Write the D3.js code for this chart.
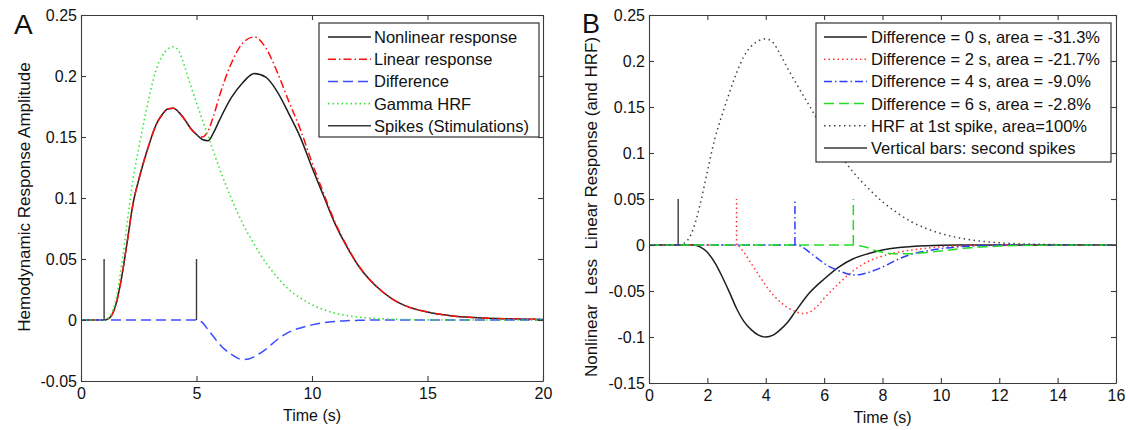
<!DOCTYPE html>
<html>
<head>
<meta charset="utf-8">
<script src="https://cdn.jsdelivr.net/npm/d3@7"></script>
<style>
  body { margin: 0; background: #fff; }
  svg text { font-family: "Liberation Sans", Arial, Helvetica, sans-serif; fill: #111; }
</style>
</head>
<body>
<svg id="fig" width="1128" height="430"></svg>
<script>
// ---------- Panel A: two spikes (t = 1 s and t = 5 s) ----------
const timeA = [0, 0.5, 1, 1.25, 1.5, 1.75, 2, 2.25, 2.5, 2.75, 3, 3.25, 3.5, 3.75, 4, 4.25, 4.5, 4.75,
  5, 5.25, 5.5, 5.75, 6, 6.5, 7, 7.5, 8, 8.5, 9, 9.5, 10, 10.5, 11, 11.5, 12, 12.5, 13, 13.5, 14,
  15, 16, 17, 18, 20];
const linearA = [0, 0, 0, 0.002, 0.012, 0.034, 0.064, 0.095, 0.115, 0.132, 0.147, 0.160, 0.168, 0.173, 0.1735, 0.170, 0.164, 0.157,
  0.152, 0.150, 0.155, 0.168, 0.184, 0.210, 0.227, 0.232, 0.223, 0.203, 0.179, 0.156, 0.129, 0.104, 0.080, 0.061, 0.045, 0.033, 0.024, 0.017, 0.012,
  0.0065, 0.0035, 0.002, 0.0012, 0.0005];
const nonlinearA = [0, 0, 0, 0.002, 0.012, 0.034, 0.064, 0.095, 0.115, 0.132, 0.147, 0.160, 0.168, 0.173, 0.1735, 0.170, 0.164, 0.157,
  0.152, 0.148, 0.147, 0.154, 0.164, 0.182, 0.1945, 0.202, 0.199, 0.187, 0.169, 0.1495, 0.125, 0.1018, 0.0788, 0.0604, 0.0447, 0.033, 0.024, 0.017, 0.012,
  0.0065, 0.0035, 0.002, 0.0012, 0.0005];

// Gamma HRF following a single spike at t = 1 s
const hrfTime = [0, 0.5, 1, 1.25, 1.5, 1.75, 2, 2.25, 2.5, 2.75, 3, 3.25, 3.5, 3.75, 4, 4.25, 4.5, 4.75,
  5, 5.5, 6, 6.5, 7, 7.5, 8, 8.5, 9, 9.5, 10, 10.5, 11, 11.5, 12, 13, 14, 15, 16, 20];
const hrfValue = [0, 0, 0, 0.003, 0.016, 0.044, 0.080, 0.115, 0.141, 0.165, 0.187, 0.205, 0.216, 0.222, 0.224, 0.220, 0.207, 0.192,
  0.178, 0.151, 0.124, 0.100, 0.079, 0.062, 0.047, 0.035, 0.025, 0.018, 0.0125, 0.0085, 0.0056, 0.0037, 0.0024, 0.001, 0.0004, 0.0001, 0, 0];

// Nonlinear minus linear, second spike 4 s after the first
const diff4Time = [0, 5, 5.25, 5.5, 5.75, 6, 6.5, 7, 7.25, 7.5, 8, 8.5, 9, 9.5, 10, 10.5, 11, 11.5, 12, 13, 16, 20];
const diff4Value = [0, 0, -0.002, -0.008, -0.014, -0.020, -0.028, -0.0325, -0.032, -0.030, -0.024, -0.016, -0.010, -0.0065, -0.004, -0.0022, -0.0012, -0.0006, -0.0003, 0, 0, 0];

const spikeTimesA = [1, 5];
const spikeHeight = 0.05;

// ---------- Panel B: differences for several spike spacings ----------
const diff0Time = [0, 1, 1.5, 1.75, 2, 2.25, 2.5, 2.75, 3, 3.25, 3.5, 3.75, 4, 4.25, 4.5, 4.75, 5, 5.5, 6, 6.5, 7, 7.5, 8, 8.5, 9, 9.5, 10, 11, 16];
const diff0Value = [0, 0, 0, -0.002, -0.008, -0.019, -0.034, -0.051, -0.069, -0.083, -0.092, -0.098, -0.100, -0.098, -0.092, -0.084, -0.073, -0.052, -0.037, -0.024, -0.015, -0.0095, -0.0055, -0.003, -0.0017, -0.0008, -0.0003, 0, 0];

const diff2Time = [0, 3, 3.25, 3.5, 3.75, 4, 4.25, 4.5, 4.75, 5, 5.25, 5.5, 5.75, 6, 6.5, 7, 7.5, 8, 8.5, 9, 9.5, 10, 10.5, 11, 12, 16];
const diff2Value = [0, 0, -0.008, -0.020, -0.032, -0.044, -0.054, -0.062, -0.068, -0.072, -0.0745, -0.073, -0.067, -0.058, -0.042, -0.028, -0.018, -0.012, -0.008, -0.0055, -0.0035, -0.002, -0.001, -0.0004, 0, 0];

const diff6Time = [0, 7, 7.25, 7.5, 7.75, 8, 8.5, 9, 9.5, 10, 10.5, 11, 11.5, 12, 13, 14, 16];
const diff6Value = [0, 0, -0.001, -0.003, -0.006, -0.008, -0.0095, -0.0094, -0.0082, -0.0065, -0.0047, -0.0031, -0.002, -0.0012, -0.0003, 0, 0];

const secondSpikeTimes = [1, 3, 5, 7];

// ---------- Ticks and text ----------
const xTicksA = [0, 5, 10, 15, 20];
const yTicksA = [-0.05, 0, 0.05, 0.1, 0.15, 0.2, 0.25];
const yTickLabelsA = ["-0.05", "0", "0.05", "0.1", "0.15", "0.2", "0.25"];
const xTicksB = [0, 2, 4, 6, 8, 10, 12, 14, 16];
const yTicksB = [-0.15, -0.1, -0.05, 0, 0.05, 0.1, 0.15, 0.2, 0.25];
const yTickLabelsB = ["-0.15", "-0.1", "-0.05", "0", "0.05", "0.1", "0.15", "0.2", "0.25"];
const legendA = ["Nonlinear response", "Linear response", "Difference", "Gamma HRF", "Spikes (Stimulations)"];
const legendB = ["Difference = 0 s, area = -31.3%", "Difference = 2 s, area = -21.7%", "Difference = 4 s, area = -9.0%",
  "Difference = 6 s, area = -2.8%", "HRF at 1st spike, area=100%", "Vertical bars: second spikes"];

// ---------- Line styles ----------
const sty = {
  solid:   { stroke: "#1e1e1e", dash: null, w: 1.5 },
  spike:   { stroke: "#3a3a3a", dash: null, w: 1.4 },
  redDD:   { stroke: "#ff1010", dash: "8,3,1.5,3", w: 1.5 },
  blueDa:  { stroke: "#3a4dff", dash: "10,5", w: 1.5 },
  greenDo: { stroke: "#33e633", dash: "1.5,3", w: 1.6 },
  redDo:   { stroke: "#ff3030", dash: "1.5,3", w: 1.5 },
  blueDD:  { stroke: "#2a3cff", dash: "8,3,1.5,3", w: 1.5 },
  greenDa: { stroke: "#22dd22", dash: "10,5", w: 1.5 },
  greyDo:  { stroke: "#444", dash: "1.5,3.5", w: 1.5 }
};

const zip = (t, v) => t.map((d, i) => [d, v[i]]);
const svg = d3.select("#fig");

function drawPanel(p) {
  const x = d3.scaleLinear().domain(p.xDomain).range([p.left, p.right]);
  const y = d3.scaleLinear().domain(p.yDomain).range([p.bottom, p.top]);
  const g = svg.append("g");

  const clipId = "clip" + p.id;
  g.append("clipPath").attr("id", clipId).append("rect")
    .attr("x", p.left).attr("y", p.top).attr("width", p.right - p.left).attr("height", p.bottom - p.top);

  const plot = g.append("g").attr("clip-path", `url(#${clipId})`);
  const line = d3.line().x(d => x(d[0])).y(d => y(d[1])).curve(d3.curveMonotoneX);

  const applyStyle = (sel, s) => sel.attr("fill", "none").attr("stroke", s.stroke)
    .attr("stroke-width", s.w).attr("stroke-dasharray", s.dash);

  p.series.forEach(s => {
    const pts = zip(s.t, s.v).filter(d => d[0] <= p.xDomain[1]);
    applyStyle(plot.append("path").attr("d", line(pts)), s.style);
  });
  p.bars.forEach(b => {
    applyStyle(plot.append("line")
      .attr("x1", x(b.t)).attr("x2", x(b.t)).attr("y1", y(0)).attr("y2", y(spikeHeight)), b.style);
  });

  // axes: ticks point inward on all four sides
  const axisStyle = sel => {
    sel.selectAll("path,line").attr("stroke", "#3c3c3c").attr("stroke-width", 1.1);
    sel.selectAll("text").attr("font-size", 16).attr("fill", "#111")
      .style("font-family", '"Liberation Sans", Arial, sans-serif');
  };
  g.append("g").attr("transform", `translate(0,${p.bottom})`)
    .call(d3.axisBottom(x).tickValues(p.xTicks).tickSizeInner(-5).tickSizeOuter(0).tickPadding(7).tickFormat(d => String(d)))
    .call(axisStyle);
  g.append("g").attr("transform", `translate(0,${p.top})`)
    .call(d3.axisTop(x).tickValues(p.xTicks).tickSizeInner(-5).tickSizeOuter(0).tickFormat(""))
    .call(axisStyle);
  g.append("g").attr("transform", `translate(${p.left},0)`)
    .call(d3.axisLeft(y).tickValues(p.yTicks).tickSizeInner(-5).tickSizeOuter(0).tickPadding(4)
      .tickFormat((d, i) => p.yLabels[i]))
    .call(axisStyle);
  g.append("g").attr("transform", `translate(${p.right},0)`)
    .call(d3.axisRight(y).tickValues(p.yTicks).tickSizeInner(-5).tickSizeOuter(0).tickFormat(""))
    .call(axisStyle);
  g.selectAll(".domain").attr("fill", "none");

  // legend
  const L = p.legend;
  g.append("rect").attr("x", L.x0).attr("y", L.y0).attr("width", L.x1 - L.x0).attr("height", L.y1 - L.y0)
    .attr("fill", "#fff").attr("stroke", "#333").attr("stroke-width", 1.2);
  L.items.forEach((it, i) => {
    const yy = L.firstRow + i * L.step;
    applyStyle(g.append("line").attr("x1", L.sx0).attr("x2", L.sx1).attr("y1", yy).attr("y2", yy), it.style);
    g.append("text").attr("x", L.tx).attr("y", yy).attr("dy", "0.36em")
      .attr("font-size", L.fs).text(it.label);
  });

  // axis titles and panel letter
  g.append("text").attr("x", (p.left + p.right) / 2).attr("y", p.xTitleY)
    .attr("text-anchor", "middle").attr("font-size", 16).text("Time (s)");
  g.append("text").attr("transform", `translate(${p.yTitleX},${p.yTitleY}) rotate(-90)`)
    .attr("text-anchor", "middle").attr("font-size", p.yTitleFs).style("white-space", "pre").text(p.yTitle);
  g.append("text").attr("x", p.letterX).attr("y", p.letterY).attr("font-size", p.letterFs).text(p.letter);
}

drawPanel({
  id: "A", left: 81, right: 543, top: 15, bottom: 381,
  xDomain: [0, 20], yDomain: [-0.05, 0.25],
  xTicks: xTicksA, yTicks: yTicksA, yLabels: yTickLabelsA,
  series: [
    { t: timeA, v: nonlinearA, style: sty.solid },
    { t: timeA, v: linearA, style: sty.redDD },
    { t: diff4Time, v: diff4Value, style: sty.blueDa },
    { t: hrfTime, v: hrfValue, style: sty.greenDo }
  ],
  bars: spikeTimesA.map(t => ({ t, style: sty.spike })),
  legend: {
    x0: 319, x1: 539, y0: 23, y1: 137, firstRow: 37, step: 22.2, sx0: 328, sx1: 371, tx: 374, fs: 16.5,
    items: [sty.solid, sty.redDD, sty.blueDa, sty.greenDo, sty.spike].map((s, i) => ({ style: s, label: legendA[i] }))
  },
  xTitleY: 421, yTitle: "Hemodynamic Response Amplitude", yTitleX: 30, yTitleY: 197, yTitleFs: 17,
  letter: "A", letterX: 14, letterY: 34, letterFs: 28
});

drawPanel({
  id: "B", left: 649, right: 1116, top: 15, bottom: 383,
  xDomain: [0, 16], yDomain: [-0.15, 0.25],
  xTicks: xTicksB, yTicks: yTicksB, yLabels: yTickLabelsB,
  series: [
    { t: diff0Time, v: diff0Value, style: sty.solid },
    { t: diff2Time, v: diff2Value, style: sty.redDo },
    { t: diff4Time, v: diff4Value, style: sty.blueDD },
    { t: diff6Time, v: diff6Value, style: sty.greenDa },
    { t: hrfTime, v: hrfValue, style: sty.greyDo }
  ],
  bars: secondSpikeTimes.map((t, i) => ({ t, style: [sty.spike, sty.redDo, sty.blueDD, sty.greenDa][i] })),
  legend: {
    x0: 816, x1: 1111, y0: 23, y1: 162, firstRow: 37, step: 22.2, sx0: 824, sx1: 867, tx: 871, fs: 16.5,
    items: [sty.solid, sty.redDo, sty.blueDD, sty.greenDa, sty.greyDo, sty.spike].map((s, i) => ({ style: s, label: legendB[i] }))
  },
  xTitleY: 423, yTitle: "Nonlinear  Less  Linear Response (and HRF)", yTitleX: 597, yTitleY: 207, yTitleFs: 17,
  letter: "B", letterX: 582, letterY: 33, letterFs: 27
});
</script>
</body>
</html>
